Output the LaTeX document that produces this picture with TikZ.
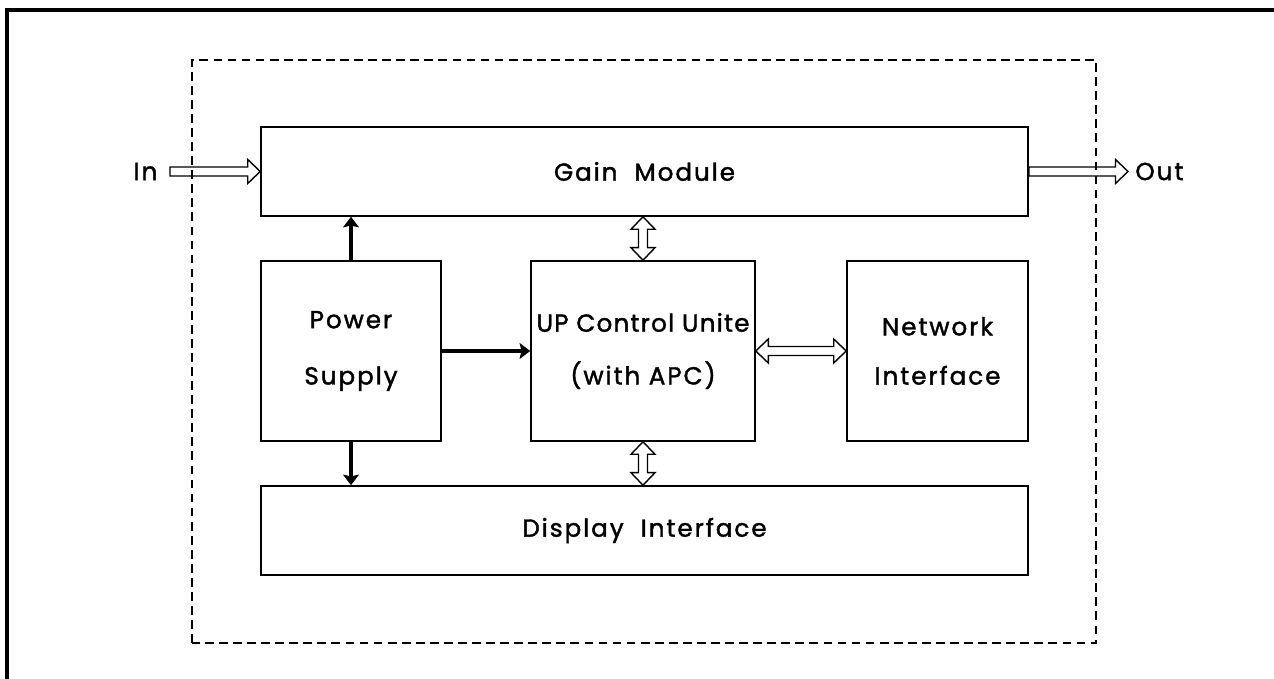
\documentclass[tikz,border=0pt]{standalone}
\usepackage{fontspec}
\setmainfont{Poppins}[LetterSpace=8, FakeBold=1.6]
\usetikzlibrary{arrows.meta,calc}

% flecha hueca (contorno), simple y doble
\def\sw{0.09cm}   % medio ancho del cuerpo
\def\hw{0.24cm}   % medio ancho de la punta
\def\hl{0.25cm}   % largo de la punta

\tikzset{
  box/.style={draw, line width=0.9pt, inner sep=0pt, align=center},
  lbl/.style={font=\fontsize{14}{17}\selectfont},
  hollow/.style={line width=0.8pt, to path={
      let \p1=(\tikztostart), \p2=(\tikztotarget),
          \n1={veclen(\x2-\x1,\y2-\y1)}, \n2={atan2(\y2-\y1,\x2-\x1)} in
      {[shift={(\p1)}, rotate=\n2]
        (0,\sw) -- (\n1-\hl,\sw) -- (\n1-\hl,\hw) -- (\n1,0)
        -- (\n1-\hl,-\hw) -- (\n1-\hl,-\sw) -- (0,-\sw) -- cycle}}},
  hollowboth/.style={line width=0.8pt, to path={
      let \p1=(\tikztostart), \p2=(\tikztotarget),
          \n1={veclen(\x2-\x1,\y2-\y1)}, \n2={atan2(\y2-\y1,\x2-\x1)} in
      {[shift={(\p1)}, rotate=\n2]
        (0,0) -- (\hl,\hw) -- (\hl,\sw) -- (\n1-\hl,\sw) -- (\n1-\hl,\hw) -- (\n1,0)
        -- (\n1-\hl,-\hw) -- (\n1-\hl,-\sw) -- (\hl,-\sw) -- (\hl,-\hw) -- cycle}}},
  power/.style={line width=2.1pt, -{Stealth[length=6pt,width=9pt,inset=1pt]}}
}

\begin{document}
\begin{tikzpicture}[every node/.style={lbl}]

  % marco de la página
  \useasboundingbox (0,0) rectangle (25.48,13.58);
  \draw[line width=2pt] (0.14,-1) -- (0.14,13.38) -- (26,13.38);

  % recuadro punteado
  \draw[line width=1.5pt, dash pattern=on 5pt off 3pt] (3.84,0.72) rectangle (21.92,12.38);

  % --- bloques ---
  \node[box, minimum width=15.34cm, minimum height=1.78cm] (gain) at (12.89,10.15) {Gain\ \ Module};
  \node[box, minimum width=3.6cm, minimum height=3.6cm] (ps) at (7.02,6.56) {Power\\[15pt]Supply};
  \node[box, minimum width=4.48cm, minimum height=3.6cm] (ctrl) at (12.86,6.56)
       {\addfontfeature{LetterSpace=5}UP Control Unite\\[13pt](with APC)};
  \node[box, minimum width=3.62cm, minimum height=3.6cm] (net) at (18.75,6.56) {Network\\[11pt]Interface};
  \node[box, minimum width=15.34cm, minimum height=1.78cm] (disp) at (12.89,2.97) {Display\ \ Interface};

  % entrada y salida
  \node[anchor=east, inner xsep=7pt] (in) at (3.4,10.15) {In};
  \node[anchor=west, inner xsep=4pt] (out) at (22.56,10.15) {Out};
  \draw[hollow] (in.east) to (gain.west);
  \draw[hollow] (gain.east) to (out.west);

  % alimentación
  \draw[power] (ps.north) -- (ps.north |- gain.south);
  \draw[power] (ps.south) -- (ps.south |- disp.north);
  \draw[power] (ps.east) -- (ctrl.west);

  % buses del controlador
  \draw[hollowboth] (ctrl.north) to (ctrl.north |- gain.south);
  \draw[hollowboth] (ctrl.south) to (ctrl.south |- disp.north);
  \draw[hollowboth] (ctrl.east) to (net.west);

\end{tikzpicture}
\end{document}
